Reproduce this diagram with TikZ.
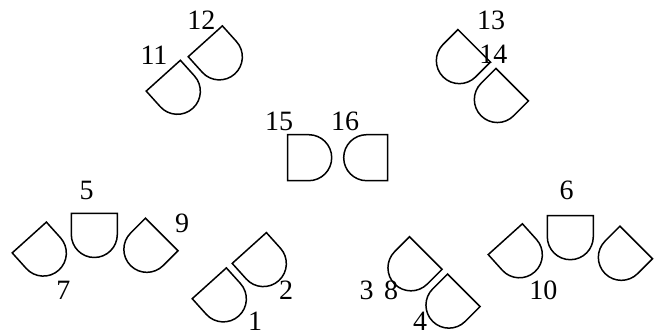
\documentclass[tikz,border=0pt]{standalone}
\usepackage{fontspec}
\setmainfont{Liberation Serif}
\usepackage{tikz}

\begin{document}
\begin{tikzpicture}[
    x=1pt, y=1pt,
    lbl/.style={font=\fontsize{28}{28}\selectfont, inner sep=0pt, text=black},
    gateline/.style={draw=black, line width=1.5pt, line join=miter},
    dgate/.pic={
        \draw[gateline] (-23,0) -- (23,0) -- (23,-21)
            arc[start angle=0, end angle=-180, radius=23] -- cycle;
    },
]
    \useasboundingbox (0,0) rectangle (657,336);

    % tilt of the gates
    \def\tiltL{42}
    \def\tiltR{-45}

    % Top pairs
    \pic (g12) [rotate=\tiltL] at (205.3,294.7) {dgate};
    \pic (g11) [rotate=\tiltL] at (163.3,260.3) {dgate};
    \pic (g13) [rotate=\tiltR] at (474.2,290.2) {dgate};
    \pic (g14) [rotate=\tiltR] at (512.2,251.3) {dgate};

    % Middle pair
    \pic (g15) [rotate=90] at (287.7,178.3) {dgate};
    \pic (g16) [rotate=-90] at (387.7,178.3) {dgate};

    % Bottom left
    \pic (g7) [rotate=\tiltL] at (29.3,98.5) {dgate};
    \pic (g5) at (94.3,122.5) {dgate};
    \pic (g9) [rotate=\tiltR] at (161.7,101.5) {dgate};
    \pic (g2) [rotate=\tiltL] at (249.3,88) {dgate};
    \pic (g1) [rotate=\tiltL] at (209.3,52.7) {dgate};

    % Bottom right
    \pic (g8) [rotate=\tiltR] at (425.8,83) {dgate};
    \pic (g4) [rotate=\tiltR] at (463.8,45.7) {dgate};
    \pic (g10) [rotate=\tiltL] at (505.3,96.8) {dgate};
    \pic (g6) at (570.3,120.3) {dgate};
    \pic (g3) [rotate=\tiltR] at (636.2,93.5) {dgate};

    % Labels
    \node[lbl] (n12) at (201.3,316) {12};
    \node[lbl] (n11) at (154,281) {11};
    \node[lbl] (n13) at (491,316) {13};
    \node[lbl] (n14) at (493.3,282) {14};
    \node[lbl] (n15) at (279,214.3) {15};
    \node[lbl] (n16) at (345,214.3) {16};
    \node[lbl] (n5) at (86.7,146) {5};
    \node[lbl] (n6) at (566.7,146) {6};
    \node[lbl] (n9) at (182,112.7) {9};
    \node[lbl] (n7) at (63.3,46) {7};
    \node[lbl] (n2) at (286,46) {2};
    \node[lbl] (n3) at (366.7,46) {3};
    \node[lbl] (n8) at (391,46) {8};
    \node[lbl] (n10) at (543.3,46) {10};
    \node[lbl] (n1) at (255,15) {1};
    \node[lbl] (n4) at (420,15) {4};
\end{tikzpicture}
\end{document}
